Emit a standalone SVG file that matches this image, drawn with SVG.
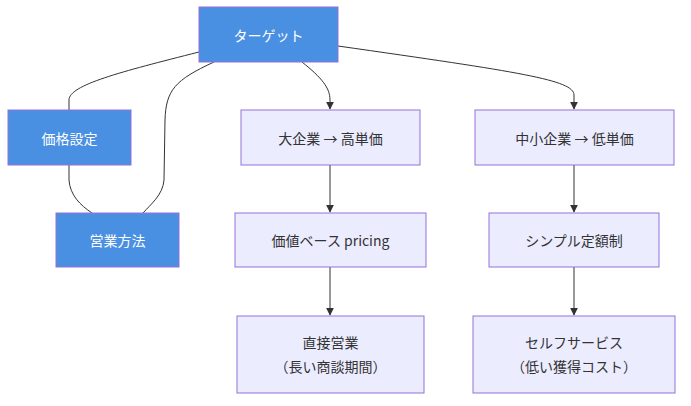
<svg xmlns="http://www.w3.org/2000/svg" width="691" height="406" viewBox="0 0 691 406">
<style>
.b{fill:#4a90e2;stroke:#9370db;stroke-width:1}
.l{fill:#ececff;stroke:#9370db;stroke-width:1}
text{font-family:"Noto Sans CJK JP","Noto Sans",sans-serif;font-size:14px;text-anchor:middle;dominant-baseline:central}
.w{fill:#fff}
.d{fill:#333}
.c{fill:none;stroke:#333;stroke-width:1}
</style>
<defs><marker id="a" viewBox="0 0 10 10" refX="9" refY="5" markerWidth="8" markerHeight="8" orient="auto"><path d="M0,0L10,5L0,10z" fill="#333"/></marker></defs>
<rect width="691" height="406" fill="#fff"/>
<g id="edges">
<path class="c" d="M199,52 C120,72 69,85 69,100 L69,110"/>
<path class="c" d="M214,62 C175,80 166,90 165,120 L164,180 C163,195 150,205 143,213"/>
<path class="c" d="M69,165 L69,180 C70,195 80,205 92,213"/>
<path class="c" d="M302,62 C322,78 330,88 330,100 L330,109" marker-end="url(#a)"/>
<path class="c" d="M338,46 C520,72 574,80 574,95 L574,109" marker-end="url(#a)"/>
<path class="c" d="M330,165 L330,212" marker-end="url(#a)"/>
<path class="c" d="M574,165 L574,212" marker-end="url(#a)"/>
<path class="c" d="M330,267 L330,315" marker-end="url(#a)"/>
<path class="c" d="M574,267 L574,315" marker-end="url(#a)"/>
</g>
<g id="n1"><rect class="b" x="199" y="7" width="139" height="55"/><text class="w" x="268.5" y="34.5">ターゲット</text></g>
<g id="n2"><rect class="b" x="8" y="110" width="123" height="55"/><text class="w" x="69.5" y="137.5">価格設定</text></g>
<g id="n3"><rect class="b" x="56" y="213" width="123" height="54"/><text class="w" x="117.5" y="240">営業方法</text></g>
<g id="n4"><rect class="l" x="241" y="110" width="179" height="55"/><text class="d" x="330.5" y="137.5">大企業 → 高単価</text></g>
<g id="n5"><rect class="l" x="475" y="110" width="199" height="55"/><text class="d" x="574.5" y="137.5">中小企業 → 低単価</text></g>
<g id="n6"><rect class="l" x="235" y="213" width="191" height="54"/><text class="d" x="330.5" y="240">価値ベース pricing</text></g>
<g id="n7"><rect class="l" x="489" y="213" width="170" height="54"/><text class="d" x="574" y="240">シンプル定額制</text></g>
<g id="n8"><rect class="l" x="237" y="316" width="187" height="77"/><text class="d" x="330.5" y="342">直接営業</text><text class="d" x="330.5" y="366">（長い商談期間）</text></g>
<g id="n9"><rect class="l" x="473" y="316" width="202" height="77"/><text class="d" x="574" y="342">セルフサービス</text><text class="d" x="574" y="366">（低い獲得コスト）</text></g>
</svg>
